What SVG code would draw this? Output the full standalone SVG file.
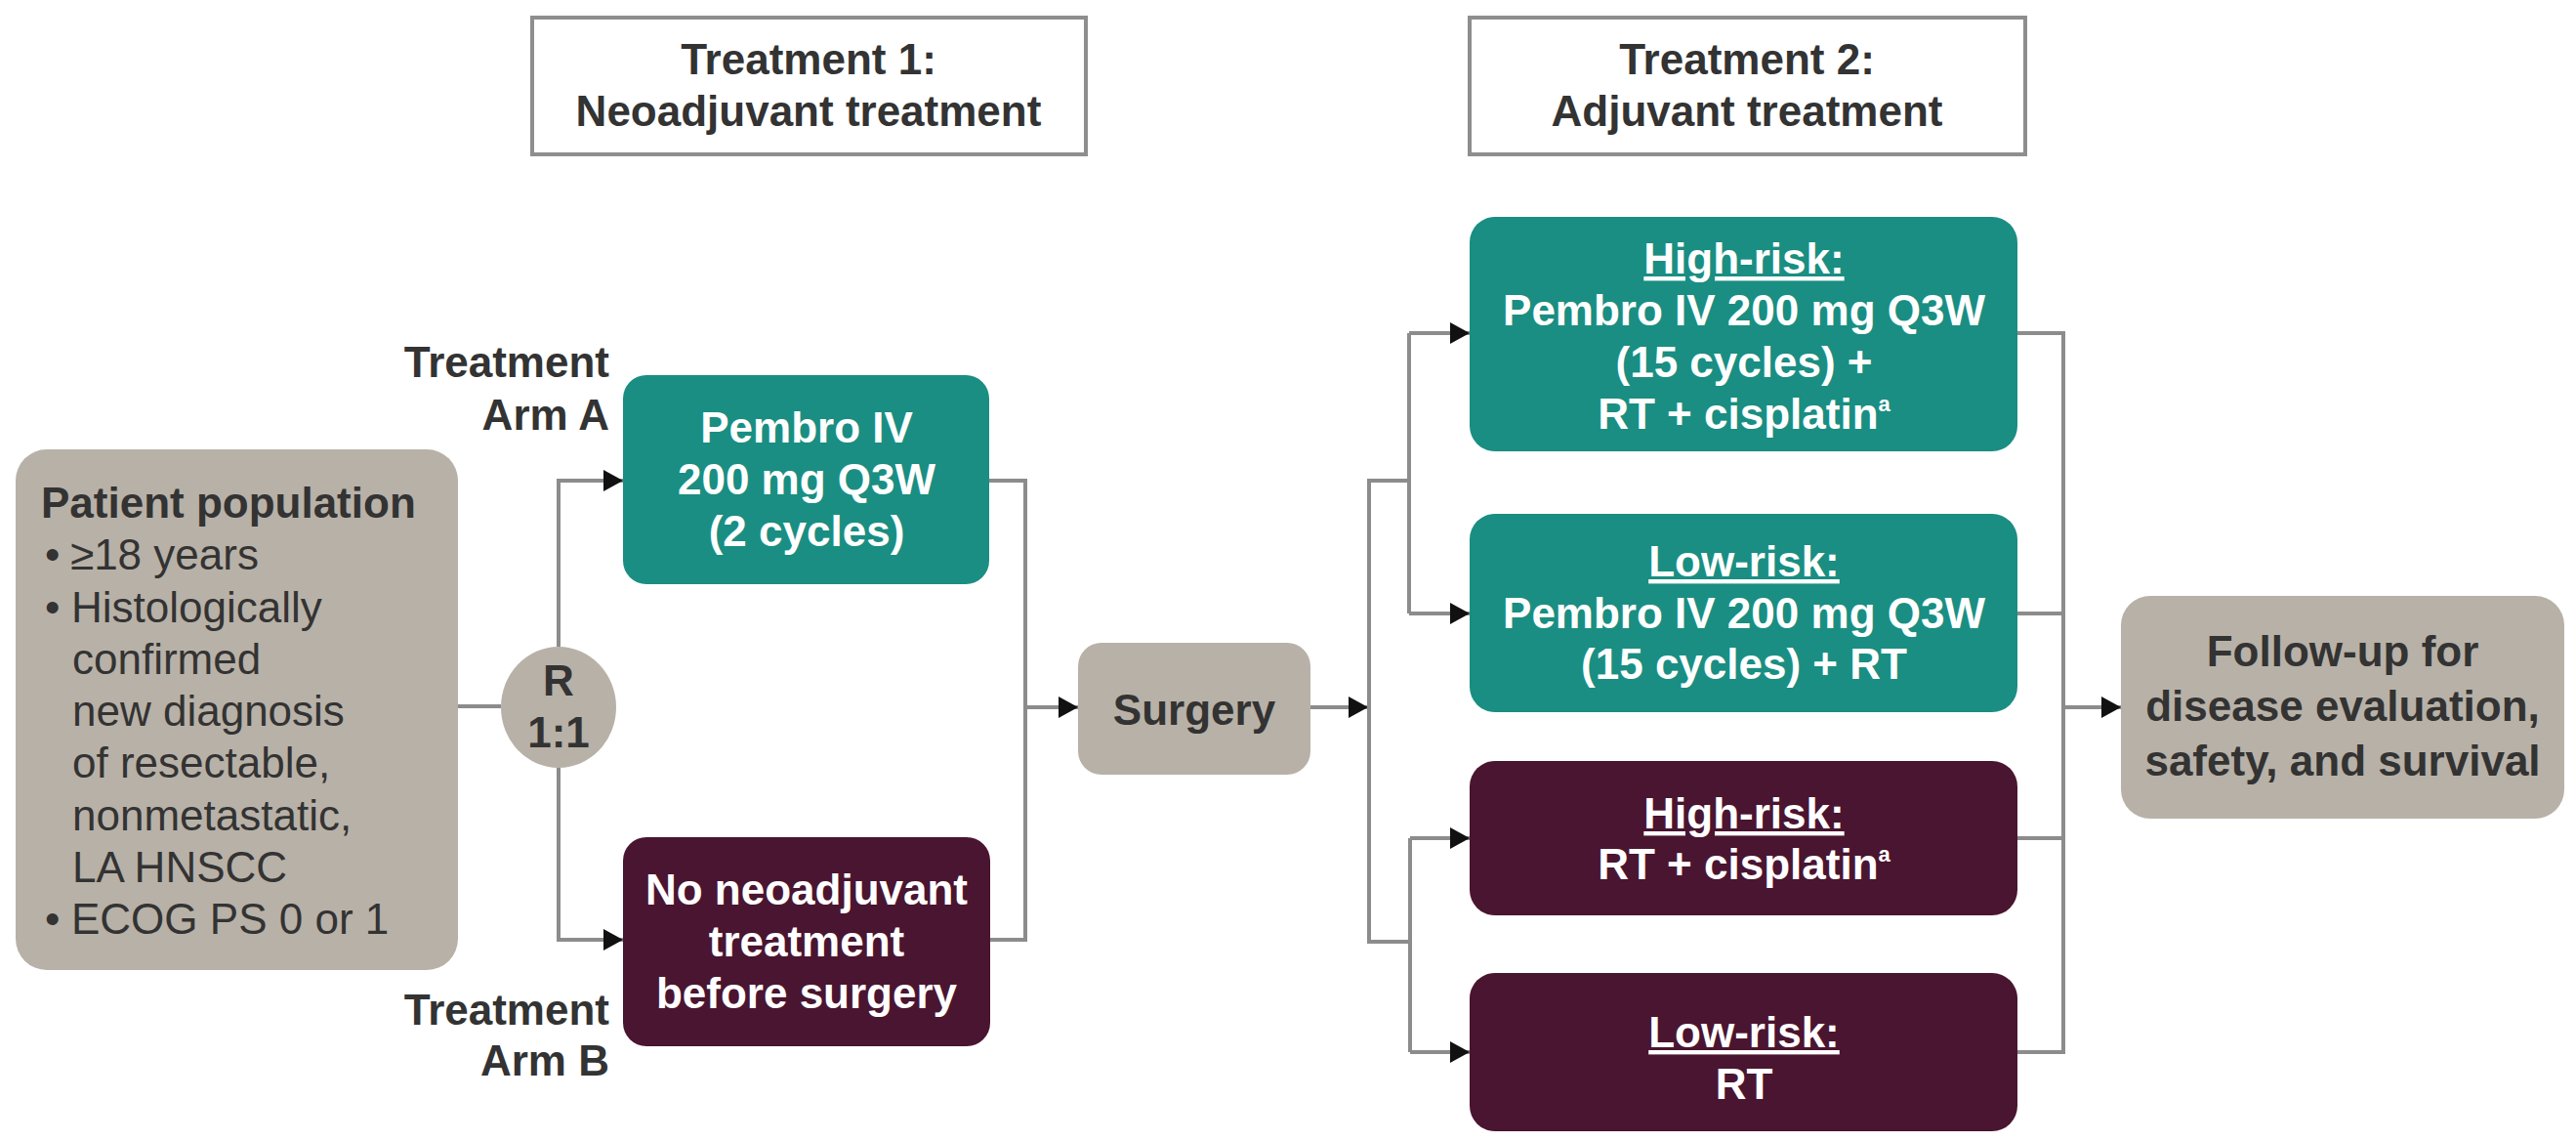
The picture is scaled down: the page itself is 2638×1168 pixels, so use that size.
<svg xmlns="http://www.w3.org/2000/svg" width="2638" height="1168" viewBox="0 0 2638 1168">
<defs>
<style>
text{font-family:"Liberation Sans",Arial,sans-serif;font-size:44px;font-weight:bold}
.dk{fill:#333333}
.lt{fill:#FFFFFF}
.c{text-anchor:middle}
.e{text-anchor:end}
.reg{font-weight:normal}
.u{text-decoration:underline}
.teal{fill:#1A8E82}
.maroon{fill:#4A1530}
.beige{fill:#B8B1A7}
.hdr{fill:#FFFFFF;stroke:#8E8E8E;stroke-width:4}
.ln{fill:none;stroke:#8C8C8C;stroke-width:4}
</style>
<marker id="arr" markerUnits="userSpaceOnUse" markerWidth="22" markerHeight="24" refX="20" refY="12" orient="auto">
<path d="M0,1 L20,12 L0,23 Z" fill="#111111"/>
</marker>
</defs>
<rect width="2638" height="1168" fill="#FFFFFF"/>

<g id="header1">
<rect class="hdr" x="545" y="18" width="567" height="140"/>
<text class="dk c" x="828" y="76">Treatment 1:</text>
<text class="dk c" x="828" y="129">Neoadjuvant treatment</text>
</g>
<g id="header2">
<rect class="hdr" x="1505" y="18" width="569" height="140"/>
<text class="dk c" x="1789" y="76">Treatment 2:</text>
<text class="dk c" x="1789" y="129">Adjuvant treatment</text>
</g>

<g id="connectors">
<path class="ln" d="M469,723 H513"/>
<path class="ln" d="M572,662 V492 H638" marker-end="url(#arr)"/>
<path class="ln" d="M572,786 V962 H638" marker-end="url(#arr)"/>
<path class="ln" d="M1013,492 H1050 V962 H1013"/>
<path class="ln" d="M1050,724 H1104" marker-end="url(#arr)"/>
<path class="ln" d="M1342,724 H1401" marker-end="url(#arr)"/>
<path class="ln" d="M1443,492 H1402 V964 H1444"/>
<path class="ln" d="M1443,341 V628"/>
<path class="ln" d="M1443,341 H1505" marker-end="url(#arr)"/>
<path class="ln" d="M1443,628 H1505" marker-end="url(#arr)"/>
<path class="ln" d="M1444,858 V1077"/>
<path class="ln" d="M1444,858 H1505" marker-end="url(#arr)"/>
<path class="ln" d="M1444,1077 H1505" marker-end="url(#arr)"/>
<path class="ln" d="M2066,341 H2113 V1077 H2066"/>
<path class="ln" d="M2066,628 H2113"/>
<path class="ln" d="M2066,858 H2113"/>
<path class="ln" d="M2113,724 H2172" marker-end="url(#arr)"/>
</g>

<g id="patient">
<rect class="beige" x="16" y="460" width="453" height="533" rx="32"/>
<text class="dk" x="42" y="530">Patient population</text>
<text class="dk reg" x="46" y="583">•</text>
<text class="dk reg" x="72" y="583">≥18 years</text>
<text class="dk reg" x="46" y="637">•</text>
<text class="dk reg" x="73" y="637">Histologically</text>
<text class="dk reg" x="74" y="690">confirmed</text>
<text class="dk reg" x="74" y="743">new diagnosis</text>
<text class="dk reg" x="74" y="796">of resectable,</text>
<text class="dk reg" x="74" y="850">nonmetastatic,</text>
<text class="dk reg" x="74" y="903">LA HNSCC</text>
<text class="dk reg" x="46" y="956">•</text>
<text class="dk reg" x="73" y="956">ECOG PS 0 or 1</text>
</g>

<g id="randomize">
<ellipse class="beige" cx="572" cy="724" rx="59" ry="62"/>
<text class="dk c" x="572" y="712">R</text>
<text class="dk c" x="572" y="765">1:1</text>
</g>

<g id="labelA">
<text class="dk e" x="624" y="386">Treatment</text>
<text class="dk e" x="624" y="440">Arm A</text>
</g>
<g id="labelB">
<text class="dk e" x="624" y="1049">Treatment</text>
<text class="dk e" x="624" y="1101">Arm B</text>
</g>

<g id="armA">
<rect class="teal" x="638" y="384" width="375" height="214" rx="24"/>
<text class="lt c" x="826" y="453">Pembro IV</text>
<text class="lt c" x="826" y="506">200 mg Q3W</text>
<text class="lt c" x="826" y="559">(2 cycles)</text>
</g>
<g id="armB">
<rect class="maroon" x="638" y="857" width="376" height="214" rx="24"/>
<text class="lt c" x="826" y="926">No neoadjuvant</text>
<text class="lt c" x="826" y="979">treatment</text>
<text class="lt c" x="826" y="1032">before surgery</text>
</g>

<g id="surgery">
<rect class="beige" x="1104" y="658" width="238" height="135" rx="24"/>
<text class="dk c" x="1223" y="742">Surgery</text>
</g>

<g id="tealHigh">
<rect class="teal" x="1505" y="222" width="561" height="240" rx="26"/>
<text class="lt c u" x="1786" y="280">High-risk:</text>
<text class="lt c" x="1786" y="333">Pembro IV 200 mg Q3W</text>
<text class="lt c" x="1786" y="386">(15 cycles) +</text>
<text class="lt c" x="1786" y="439">RT + cisplatin<tspan font-size="22" dy="-18">a</tspan></text>
</g>
<g id="tealLow">
<rect class="teal" x="1505" y="526" width="561" height="203" rx="26"/>
<text class="lt c u" x="1786" y="590">Low-risk:</text>
<text class="lt c" x="1786" y="643">Pembro IV 200 mg Q3W</text>
<text class="lt c" x="1786" y="695">(15 cycles) + RT</text>
</g>
<g id="maroonHigh">
<rect class="maroon" x="1505" y="779" width="561" height="158" rx="26"/>
<text class="lt c u" x="1786" y="848">High-risk:</text>
<text class="lt c" x="1786" y="900">RT + cisplatin<tspan font-size="22" dy="-18">a</tspan></text>
</g>
<g id="maroonLow">
<rect class="maroon" x="1505" y="996" width="561" height="162" rx="26"/>
<text class="lt c u" x="1786" y="1072">Low-risk:</text>
<text class="lt c" x="1786" y="1125">RT</text>
</g>

<g id="followup">
<rect class="beige" x="2172" y="610" width="454" height="228" rx="30"/>
<text class="dk c" x="2399" y="682">Follow-up for</text>
<text class="dk c" x="2399" y="738">disease evaluation,</text>
<text class="dk c" x="2399" y="794">safety, and survival</text>
</g>
</svg>
